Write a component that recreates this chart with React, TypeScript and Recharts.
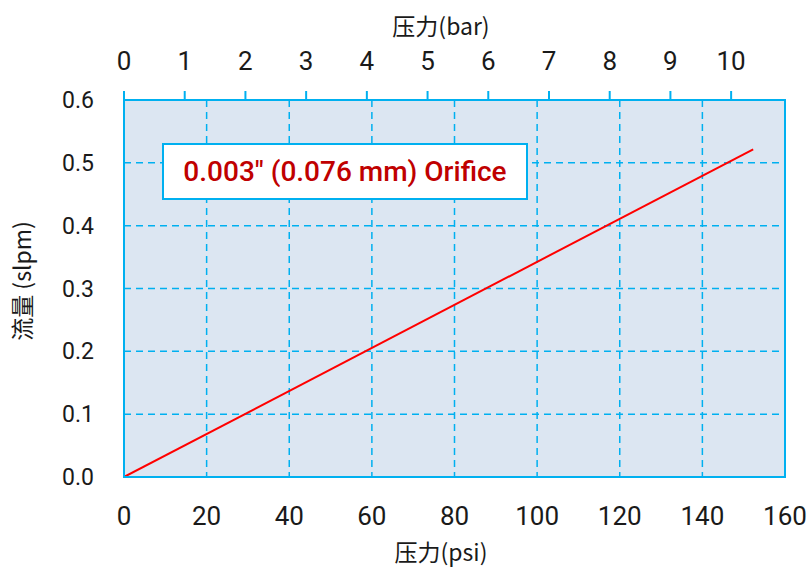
import React from "react";
import {
  ComposedChart,
  Line,
  XAxis,
  YAxis,
  CartesianGrid,
  ReferenceArea,
} from "recharts";

const psiTicks = [0, 20, 40, 60, 80, 100, 120, 140, 160];
const barTicks = [0, 1, 2, 3, 4, 5, 6, 7, 8, 9, 10];
const flowTicks = [0, 0.1, 0.2, 0.3, 0.4, 0.5, 0.6];
const psiPerBar = 14.696;
const pressurePsi = [0, 152.3];
const flowSlpm = [0, 0.5215];

const data = pressurePsi.map((p, i) => ({ psi: p, bar: p / psiPerBar, flow: flowSlpm[i] }));

const BLUE = "#00b0f0";
const FONT = "Roboto, 'Noto Sans', sans-serif";
const CJK = "'Noto Sans CJK SC', Roboto, sans-serif";

export default function App() {
  return (
    <div style={{ position: "absolute", left: 0, top: 0, width: 810, height: 572, background: "#fff" }}>
      <ComposedChart
        width={810}
        height={572}
        data={data}
        margin={{ top: 0, right: 25, bottom: 0, left: 0 }}
      >
        <CartesianGrid
          xAxisId="psi"
          yAxisId="flow"
          fill="#dce6f2"
          stroke={BLUE}
          strokeWidth={1.5}
          strokeDasharray="7 5"
        />
        <XAxis
          xAxisId="psi"
          dataKey="psi"
          type="number"
          domain={[0, 160]}
          allowDataOverflow
          ticks={psiTicks}
          orientation="bottom"
          height={95}
          axisLine={{ stroke: BLUE, strokeWidth: 2 }}
          tickLine={false}
          tickSize={0}
          tickMargin={30}
          tick={{ fill: "#1a1a1a", fontSize: 26, fontFamily: FONT }}
          interval={0}
        />
        <XAxis
          xAxisId="bar"
          dataKey="bar"
          type="number"
          domain={[0, 160 / psiPerBar]}
          allowDataOverflow
          ticks={barTicks}
          orientation="top"
          height={100}
          axisLine={{ stroke: BLUE, strokeWidth: 2 }}
          tickLine={{ stroke: BLUE, strokeWidth: 2 }}
          tickSize={9}
          tickMargin={21}
          tick={{ fill: "#1a1a1a", fontSize: 26, fontFamily: FONT }}
          interval={0}
        />
        <YAxis
          yAxisId="flow"
          type="number"
          domain={[0, 0.6]}
          allowDataOverflow
          ticks={flowTicks}
          width={124}
          axisLine={{ stroke: BLUE, strokeWidth: 2 }}
          tickLine={false}
          tickSize={0}
          tickMargin={30}
          tickFormatter={(v: number) => v.toFixed(1)}
          tick={{ fill: "#1a1a1a", fontSize: 23, fontFamily: FONT }}
          interval={0}
        />
        <ReferenceArea
          xAxisId="psi"
          yAxisId="flow"
          x1={0}
          x2={160}
          y1={0}
          y2={0.6}
          fill="none"
          fillOpacity={0}
          stroke={BLUE}
          strokeWidth={2}
          ifOverflow="visible"
        />
        <Line
          xAxisId="bar"
          yAxisId="flow"
          dataKey="flow"
          type="linear"
          stroke="none"
          strokeWidth={0}
          dot={false}
          activeDot={false}
          legendType="none"
          isAnimationActive={false}
        />
        <Line
          xAxisId="psi"
          yAxisId="flow"
          dataKey="flow"
          type="linear"
          stroke="#ff0000"
          strokeWidth={2}
          dot={false}
          isAnimationActive={false}
        />
      </ComposedChart>
      <div
        style={{
          position: "absolute",
          left: 162,
          top: 143,
          width: 362,
          height: 53,
          border: `2px solid ${BLUE}`,
          background: "#fff",
          color: "#c00000",
          fontFamily: FONT,
          fontWeight: 500,
          fontSize: 28,
          lineHeight: "53px",
          textAlign: "center",
          whiteSpace: "nowrap",
        }}
      >
        0.003" (0.076 mm) Orifice
      </div>
      <div
        style={{
          position: "absolute",
          left: 341,
          width: 200,
          top: 10,
          textAlign: "center",
          fontFamily: CJK,
          fontSize: 23,
          lineHeight: "30px",
          color: "#1a1a1a",
        }}
      >
        压力(bar)
      </div>
      <div
        style={{
          position: "absolute",
          left: 341,
          width: 200,
          top: 536,
          textAlign: "center",
          fontFamily: CJK,
          fontSize: 23,
          lineHeight: "30px",
          color: "#1a1a1a",
        }}
      >
        压力(psi)
      </div>
      <div
        style={{
          position: "absolute",
          left: 21,
          top: 281,
          transform: "translate(-50%, -50%) rotate(-90deg)",
          fontFamily: CJK,
          fontSize: 23,
          lineHeight: "30px",
          color: "#1a1a1a",
          whiteSpace: "nowrap",
        }}
      >
        流量 (slpm)
      </div>
    </div>
  );
}
